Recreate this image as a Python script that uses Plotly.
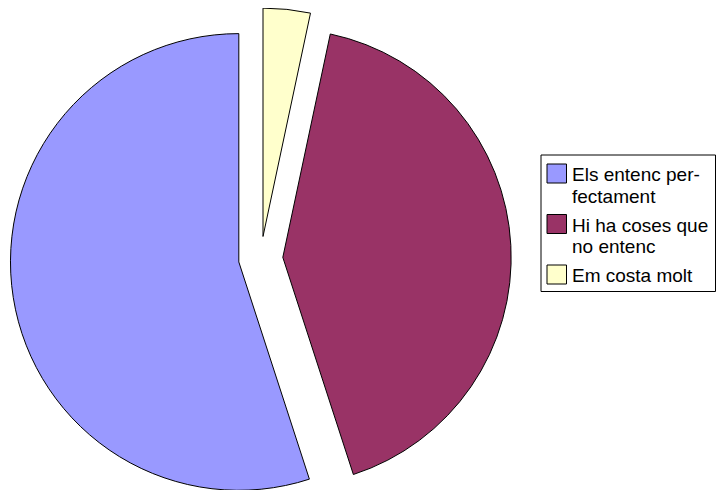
import plotly.graph_objects as go

# dades
etiquetes = ["Els entenc per-<br>fectament", "Hi ha coses que<br>no entenc", "Em costa molt"]
valors = [33, 25, 2]
colors = ["#9999FF", "#993366", "#FFFFCC"]

# la pàgina té 8 px de marge al body: la figura es desplaça
W, H = 717, 501

# en mode antihorari plotly posa la primera porció a [rotation, rotation+v] (horari)
rot = 360 * (1 - valors[0] / sum(valors))

fig = go.Figure(go.Pie(
    labels=etiquetes,
    values=valors,
    sort=False,
    direction="counterclockwise",
    rotation=rot,
    pull=[0.097, 0.097, 0.097],
    textinfo="none",
    marker=dict(colors=colors, line=dict(color="black", width=1)),
    domain=dict(x=[0, 505.4 / W], y=[0, 1]),
    showlegend=False,
))

# llegenda feta a mà (quadrats grans com l'original)
def px(x):
    return x / W

def py(y):
    return 1 - y / H

fig.add_shape(type="rect", xref="paper", yref="paper",
              x0=px(533), x1=px(707.5), y0=py(147), y1=py(283.5),
              line=dict(color="black", width=1), fillcolor="white")

for i, (txt, col) in enumerate(zip(etiquetes, colors)):
    base = 173 + 50.5 * i
    fig.add_shape(type="rect", xref="paper", yref="paper",
                  x0=px(539), x1=px(558.5), y0=py(base - 17), y1=py(base + 2),
                  line=dict(color="black", width=1), fillcolor=col)
    for j, linia in enumerate(txt.split("<br>")):
        fig.add_annotation(text=linia, xref="paper", yref="paper",
                           x=px(562), y=py(base + 22 * j - 6.5),
                           xanchor="left", yanchor="middle",
                           align="left", showarrow=False,
                           font=dict(size=19, color="black"))

fig.update_layout(
    width=W, height=H,
    margin=dict(l=0, r=0, t=0, b=0),
    paper_bgcolor="white",
    font=dict(family="Liberation Sans, Arial, sans-serif"),
)

fig.write_html("out.html")
